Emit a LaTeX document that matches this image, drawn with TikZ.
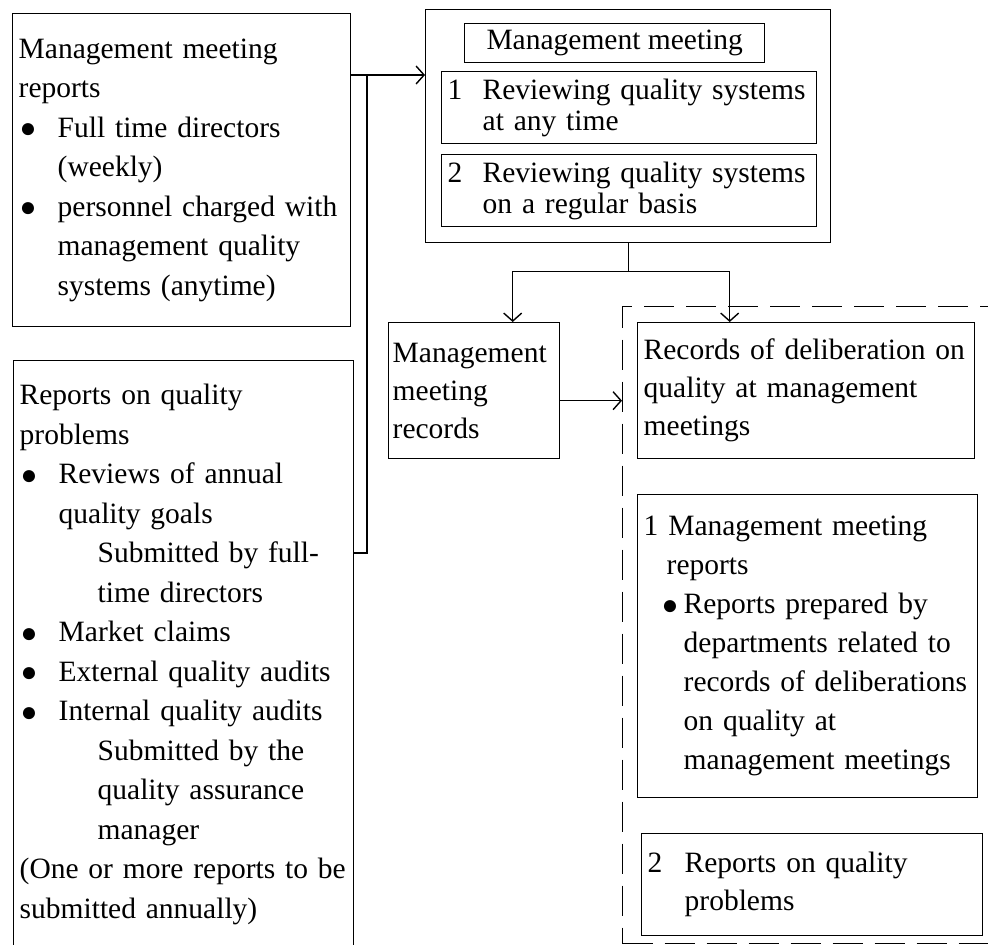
\documentclass[tikz,border=0pt]{standalone}
\usepackage{fontspec}
\setmainfont{Liberation Serif}
\usetikzlibrary{arrows.meta}

% bullet and indents for the list lines
\newcommand\blob{\raisebox{-0.5pt}{\fontsize{28}{28}\selectfont ●}}
\newcommand\itemdot{\makebox[39pt][l]{\hspace{1pt}\blob}}
\newcommand\lvlone{\hspace*{39pt}}
\newcommand\lvltwo{\hspace*{78pt}}

\begin{document}
\begin{tikzpicture}[x=1pt, y=-1pt,
  box/.style={draw, line width=1.4pt, anchor=north west, inner ysep=0pt, inner xsep=6pt,
              align=left, font=\fontsize{29.5}{39.5}\selectfont},
  tight/.style={font=\fontsize{29.5}{30.5}\selectfont},
  link/.style={line width=1.4pt},
  arr/.style={line width=1.4pt, -{Straight Barb[length=8pt,width=18pt]}}]
  \useasboundingbox (0,0) rectangle (988,945);

  % Dashed frame round the records
  \node[draw, line width=1.3pt, dash pattern=on 30pt off 12pt, anchor=north west, inner sep=0pt,
        minimum width=400pt, minimum height=637pt] (archive) at (622,306) {};

  % Reports going in
  \node[box, minimum width=338pt, minimum height=313pt, text width=326pt] (mrep) at (12,13)
    {Management meeting\\ reports\\ \itemdot Full time directors\\ \lvlone(weekly)\\
     \itemdot personnel charged with\\ \lvlone management quality\\ \lvlone systems (anytime)};
  \node[box, minimum width=340pt, minimum height=587pt, text width=328pt] (qprob) at (13,360)
    {Reports on quality\\ problems\\ \itemdot Reviews of annual\\ \lvlone quality goals\\
     \lvltwo Submitted by full-\\ \lvltwo time directors\\ \itemdot Market claims\\
     \itemdot External quality audits\\ \itemdot Internal quality audits\\
     \lvltwo Submitted by the\\ \lvltwo quality assurance\\ \lvltwo manager\\
     (One or more reports to be\\ submitted annually)};

  % Management meeting
  \node[box, minimum width=405pt, minimum height=233pt] (meet) at (425,9) {};
  \node[box, align=center, minimum width=300pt, minimum height=39pt] (mtitle) at (464,23) {Management meeting};
  \node[box, tight, minimum width=375pt, minimum height=72pt, text width=363pt] (rev1) at (441,71)
    {\makebox[35pt][l]{1}Reviewing quality systems\\ \hspace*{35pt}at any time};
  \node[box, tight, minimum width=375pt, minimum height=72pt, text width=363pt] (rev2) at (441,154)
    {\makebox[35pt][l]{2}Reviewing quality systems\\ \hspace*{35pt}on a regular basis};

  % Records
  \node[box, font=\fontsize{29.5}{38}\selectfont, inner xsep=4pt, minimum width=171pt,
        minimum height=136pt, text width=163pt] (recs) at (388,322)
    {Management\\ meeting\\ records};
  \node[box, font=\fontsize{29.5}{38}\selectfont, minimum width=337pt, minimum height=136pt,
        text width=325pt] (delib) at (637,322)
    {Records of deliberation on\\ quality at management\\ meetings};
  \node[box, font=\fontsize{29.5}{39}\selectfont, minimum width=340pt, minimum height=303pt,
        text width=328pt] (rep1) at (637,494)
    {1 Management meeting\\ \hspace*{23pt}reports\\
     \hspace*{18pt}\makebox[22pt][l]{\blob}Reports prepared by\\
     \hspace*{40pt}departments related to\\ \hspace*{40pt}records of deliberations\\
     \hspace*{40pt}on quality at\\ \hspace*{40pt}management meetings};
  \node[box, font=\fontsize{29.5}{38}\selectfont, minimum width=341pt, minimum height=102pt,
        text width=329pt] (rep2) at (641,833)
    {\makebox[37pt][l]{2}Reports on quality\\ \hspace*{37pt}problems};

  % Connectors
  \coordinate (feed) at (367,75);
  \coordinate (bend) at (367,553);
  \coordinate (split) at ([yshift=-28pt]meet.south);
  \draw[arr] (mrep.east |- feed) -- (meet.west |- feed);
  \draw[link] (feed) -- (bend) -- (bend -| qprob.east);
  \draw[link] (meet.south) -- (split);
  \draw[arr] (split) -| ([xshift=38.5pt]recs.north);
  \draw[arr] (split) -| ([xshift=-76.5pt]delib.north);
  \draw[arr] ([yshift=-10pt]recs.east) -- ([yshift=-10pt]recs.east -| archive.west);
\end{tikzpicture}
\end{document}
